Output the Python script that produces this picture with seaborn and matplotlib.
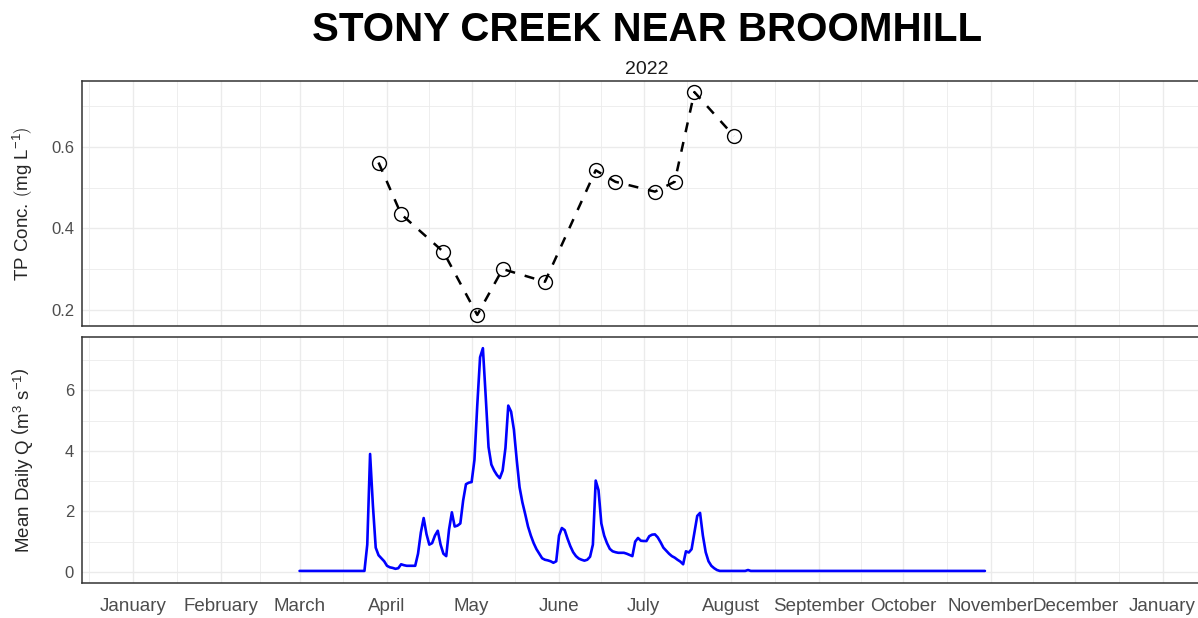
import pandas as pd
import matplotlib
matplotlib.use("Agg")
import matplotlib.pyplot as plt
import matplotlib.dates as mdates
import seaborn as sns

# TP grab samples (mg/L)
tp_dates = ["2022-03-29", "2022-04-06", "2022-04-21", "2022-05-03", "2022-05-12",
            "2022-05-27", "2022-06-14", "2022-06-21", "2022-07-05", "2022-07-12",
            "2022-07-19", "2022-08-02"]
tp_conc = [0.561, 0.435, 0.343, 0.189, 0.301, 0.270,
           0.542, 0.514, 0.490, 0.514, 0.733, 0.626]

# Mean daily discharge (m3/s), one value per day starting 1 March 2022
flow_start = "2022-03-01"
flow_q = [
    0.03, 0.03, 0.03, 0.03, 0.03, 0.03, 0.03, 0.03, 0.03, 0.03,
    0.03, 0.03, 0.03, 0.03, 0.03, 0.03, 0.03, 0.03, 0.03, 0.03,
    0.03, 0.03, 0.03, 0.03, 0.90, 3.90, 2.20, 0.80, 0.55, 0.45,
    0.35, 0.20, 0.15, 0.13, 0.10, 0.12, 0.25, 0.22, 0.20, 0.20,
    0.20, 0.20, 0.60, 1.30, 1.78, 1.25, 0.90, 0.95, 1.20, 1.36,
    0.90, 0.60, 0.52, 1.40, 1.97, 1.50, 1.53, 1.60, 2.36, 2.90,
    2.95, 2.97, 3.70, 5.50, 7.10, 7.40, 5.80, 4.13, 3.55, 3.35,
    3.20, 3.10, 3.35, 4.10, 5.50, 5.30, 4.70, 3.70, 2.80, 2.30,
    1.91, 1.50, 1.20, 0.95, 0.75, 0.60, 0.45, 0.40, 0.38, 0.35,
    0.30, 0.35, 1.20, 1.45, 1.38, 1.10, 0.85, 0.65, 0.52, 0.44,
    0.40, 0.37, 0.40, 0.50, 0.90, 3.02, 2.70, 1.60, 1.20, 0.95,
    0.76, 0.68, 0.65, 0.63, 0.63, 0.63, 0.60, 0.56, 0.52, 1.00,
    1.12, 1.03, 1.02, 1.02, 1.18, 1.23, 1.24, 1.14, 0.98, 0.80,
    0.70, 0.60, 0.52, 0.47, 0.40, 0.34, 0.25, 0.68, 0.64, 0.75,
    1.30, 1.85, 1.95, 1.20, 0.65, 0.35, 0.20, 0.12, 0.06, 0.03,
    0.03, 0.03, 0.03, 0.03, 0.03, 0.03, 0.03, 0.03, 0.03, 0.06,
    0.03, 0.03, 0.03, 0.03, 0.03, 0.03, 0.03, 0.03, 0.03, 0.03,
    0.03, 0.03, 0.03, 0.03, 0.03, 0.03, 0.03, 0.03, 0.03, 0.03,
    0.03, 0.03, 0.03, 0.03, 0.03, 0.03, 0.03, 0.03, 0.03, 0.03,
    0.03, 0.03, 0.03, 0.03, 0.03, 0.03, 0.03, 0.03, 0.03, 0.03,
    0.03, 0.03, 0.03, 0.03, 0.03, 0.03, 0.03, 0.03, 0.03, 0.03,
    0.03, 0.03, 0.03, 0.03, 0.03, 0.03, 0.03, 0.03, 0.03, 0.03,
    0.03, 0.03, 0.03, 0.03, 0.03, 0.03, 0.03, 0.03, 0.03, 0.03,
    0.03, 0.03, 0.03, 0.03, 0.03, 0.03, 0.03, 0.03, 0.03, 0.03,
    0.03, 0.03, 0.03, 0.03,
]

tp_df = pd.DataFrame({"date": pd.to_datetime(tp_dates), "conc": tp_conc})
flow_df = pd.DataFrame({"date": pd.date_range(flow_start, periods=len(flow_q), freq="D"),
                        "q": flow_q})

sns.set_theme(style="white")
plt.rcParams["font.family"] = ["Liberation Sans", "DejaVu Sans"]
plt.rcParams["mathtext.fontset"] = "custom"
plt.rcParams["mathtext.rm"] = "Liberation Sans"
plt.rcParams["mathtext.it"] = "Liberation Sans:italic"
plt.rcParams["mathtext.default"] = "regular"

fig = plt.figure(figsize=(11.98, 6.18), dpi=100)
# panels run slightly past the right edge of the canvas (cropped like the original)
ax1 = fig.add_axes([0.0682, 0.4725, 0.9452, 0.3964])
ax2 = fig.add_axes([0.0682, 0.0566, 0.9452, 0.3981])

sns.lineplot(data=tp_df, x="date", y="conc", ax=ax1, color="black",
             linestyle=(0, (4, 4)), linewidth=1.8, marker="o", markersize=10,
             markerfacecolor="none", markeredgecolor="black", markeredgewidth=1.0)
sns.lineplot(data=flow_df, x="date", y="q", ax=ax2, color="blue", linewidth=1.9)

# date axis: yearly window with ggplot-like 5% expansion
start, end = pd.Timestamp("2022-01-01"), pd.Timestamp("2023-01-01")
pad = (end - start) * 0.05
months = pd.date_range("2021-12-01", "2023-02-01", freq="MS")
mids = [months[k] + (months[k + 1] - months[k]) / 2 for k in range(len(months) - 1)]
majors = pd.date_range(start, end, freq="MS")

grey = "#4D4D4D"
for ax in (ax1, ax2):
    ax.set_xlim(start - pad, end + pad)
    ax.set_xticks(majors)
    ax.set_xticks(mids, minor=True)
    ax.xaxis.set_major_formatter(mdates.DateFormatter("%B"))
    ax.grid(which="major", color="#EBEBEB", linewidth=1.0)
    ax.grid(which="minor", color="#EBEBEB", linewidth=0.6)
    ax.set_axisbelow(True)
    for s in ax.spines.values():
        s.set_color("#333333")
        s.set_linewidth(1.1)
    ax.tick_params(which="major", length=3.5, width=0.8, color="#333333",
                   labelsize=12, labelcolor=grey, pad=2)
    ax.tick_params(which="minor", length=0)
    ax.set_xlabel("")

ax1.set_ylim(0.162, 0.760)
ax1.set_yticks([0.2, 0.4, 0.6])
ax1.set_yticks([0.3, 0.5, 0.7], minor=True)
ax1.tick_params(axis="x", which="both", length=0, labelbottom=False)

ax2.set_ylim(-0.37, 7.77)
ax2.set_yticks([0, 2, 4, 6])
ax2.set_yticks([1, 3, 5, 7], minor=True)
ax2.tick_params(axis="x", pad=7, labelsize=13.5)

ax1.set_ylabel(r"TP Conc. $\left(\mathrm{mg\ L^{-1}}\right)$", fontsize=13.5)
ax2.set_ylabel(r"Mean Daily Q $\left(\mathrm{m^{3}\ s^{-1}}\right)$", fontsize=13.5)
ax1.yaxis.set_label_coords(-0.041, 0.5)
ax2.yaxis.set_label_coords(-0.041, 0.5)

fig.text(0.540, 0.951, "STONY CREEK NEAR BROOMHILL", ha="center", va="center",
         fontsize=29, fontweight="bold", color="black")
fig.text(0.540, 0.887, "2022", ha="center", va="center", fontsize=14, color="#1A1A1A")

fig.savefig("out.png", dpi=100)
